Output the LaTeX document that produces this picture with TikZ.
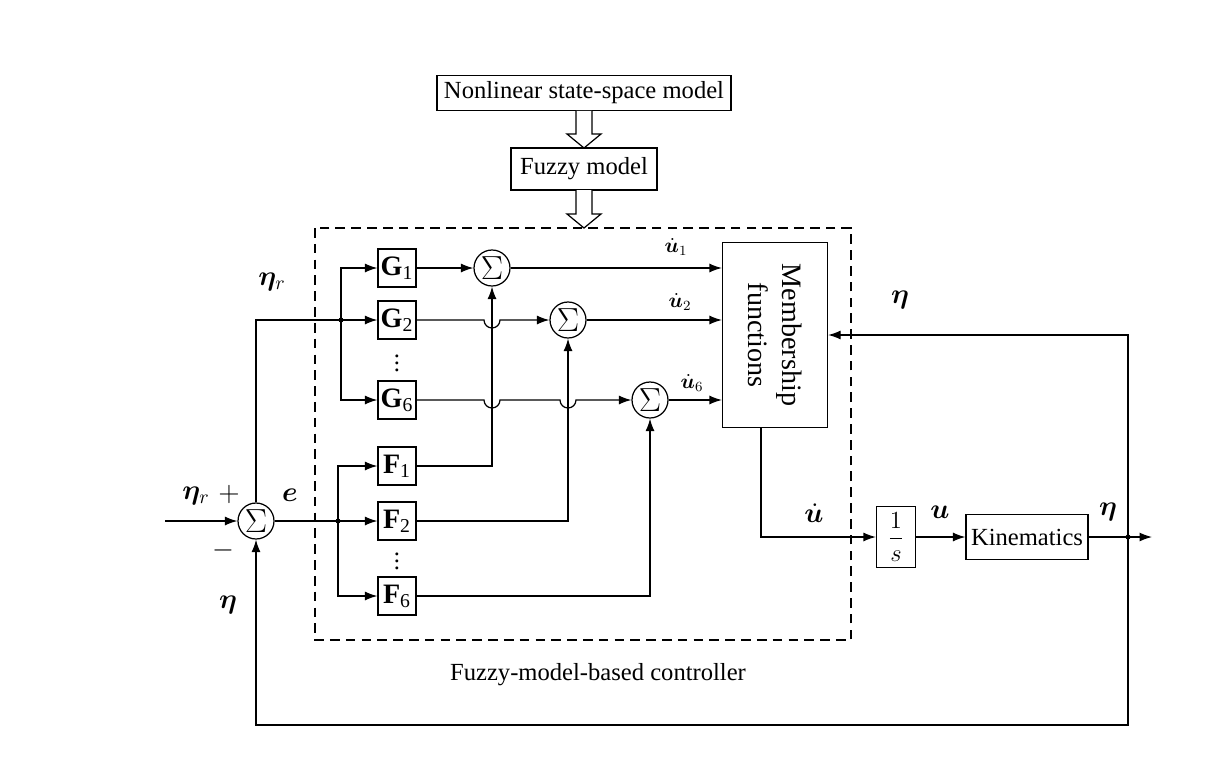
\RequirePackage{fix-cm}
\documentclass[tikz,border=0pt]{standalone}
\usepackage{fontspec}
\setmainfont{Liberation Serif}
\usepackage{bm}
\usetikzlibrary{arrows.meta,calc}

\tikzset{
  blk/.style={draw, inner sep=0pt, minimum width=0.76cm, minimum height=0.76cm},
  gain/.style={blk, font=\fontsize{16}{18}\selectfont},
  sumnode/.style={draw, circle, inner sep=0pt, minimum size=0.72cm, font=\fontsize{19}{21}\selectfont},
  sig/.style={-{Latex[length=2.5mm,width=1.8mm]}},
  sym/.style={font=\fontsize{16}{18}\selectfont},
  small/.style={font=\fontsize{12}{14}\selectfont},
}

\begin{document}
\begin{tikzpicture}[x=0.02cm,y=-0.02cm,line width=0.7pt,font=\fontsize{14}{17}\selectfont]
    \useasboundingbox (0,0) rectangle (1222,760);

    % model boxes on top
    \node[blk, minimum width=5.88cm, minimum height=0.7cm] (nl) at (584,93) {Nonlinear state-space model};
    \node[blk, minimum width=2.92cm, minimum height=0.84cm] (fm) at (584,169) {Fuzzy model};
    \foreach \t/\b in {111/148,190/228}
        \draw[fill=white] (576,\t) -- (576,\b-14) -- (567,\b-14) -- (584,\b) -- (601,\b-14) -- (592,\b-14) -- (592,\t);

    % controller frame
    \draw[dash pattern=on 5.5pt off 3.5pt] (315,228) rectangle (851,640);
    \node (cap) at (598,675) {Fuzzy-model-based controller};

    % error summer
    \node[sumnode] (s0) at (256,521) {$\Sigma$};
    \coordinate (in) at (165,521);
    \draw[sig] (in) -- (s0);
    \node[sym] at (196,496) {$\bm{\eta}_r$};
    \node[sym] at (229,494) {$+$};
    \node[sym] at (223,550) {$-$};
    \node[sym] at (228,605) {$\bm{\eta}$};

    % G gains
    \coordinate (gb) at (341,320);
    \node[gain] (g1) at (397,268) {\textbf{G}\textsubscript{1}};
    \node[gain] (g2) at (397,320) {\textbf{G}\textsubscript{2}};
    \node[gain] (g6) at (397,400) {\textbf{G}\textsubscript{6}};
    \node at (397,358) {$\vdots$};
    \draw (s0) |- (gb);
    \draw[sig] (gb) |- (g1);
    \draw[sig] (gb) -- (g2);
    \draw[sig] (gb) |- (g6);
    \fill (gb) circle (2.5);
    \node[sym] at (272,282) {$\bm{\eta}_r$};

    % F gains
    \coordinate (fb) at (338,521);
    \node[gain] (f1) at (397,466) {\textbf{F}\textsubscript{1}};
    \node[gain] (f2) at (397,521) {\textbf{F}\textsubscript{2}};
    \node[gain] (f6) at (397,596) {\textbf{F}\textsubscript{6}};
    \node at (397,556) {$\vdots$};
    \draw (s0) -- (fb);
    \draw[sig] (fb) |- (f1);
    \draw[sig] (fb) -- (f2);
    \draw[sig] (fb) |- (f6);
    \fill (fb) circle (2.5);
    \node[sym] at (290,495) {$\bm{e}$};

    % local summers
    \node[sumnode] (s1) at (492,268) {$\Sigma$};
    \node[sumnode] (s2) at (568,320) {$\Sigma$};
    \node[sumnode] (s3) at (650,400) {$\Sigma$};
    \draw[sig] (g1) -- (s1);
    \draw[sig] (g2) -- (484,320) arc[start angle=180,end angle=0,radius=8] -- (s2);
    \draw[sig] (g6) -- (484,400) arc[start angle=180,end angle=0,radius=8]
        -- (560,400) arc[start angle=180,end angle=0,radius=8] -- (s3);
    \draw[sig] (f1) -| (s1);
    \draw[sig] (f2) -| (s2);
    \draw[sig] (f6) -| (s3);

    % membership functions
    \node[blk, rotate=-90, align=center, minimum width=3.7cm, minimum height=2.1cm,
        font=\fontsize{16}{19}\selectfont] (mf) at (775,335) {Membership\\functions};
    \draw[sig] (s1) -- (s1 -| mf.south);
    \draw[sig] (s2) -- (s2 -| mf.south);
    \draw[sig] (s3) -- (s3 -| mf.south);
    \node[small] at (676,247) {$\dot{\bm{u}}_1$};
    \node[small] at (680,302) {$\dot{\bm{u}}_2$};
    \node[small] at (692,383) {$\dot{\bm{u}}_6$};

    % integrator and plant
    \node[blk, minimum width=0.78cm, minimum height=1.22cm] (int) at (896,537) {$\displaystyle\frac{1}{s}$};
    \node[blk, minimum width=2.44cm, minimum height=0.9cm] (kin) at (1027,537) {Kinematics};
    \draw[sig] ($(mf.east)+(-14,0)$) |- (int);
    \draw[sig] (int) -- (kin);
    \node[sym] at (814,513) {$\dot{\bm{u}}$};
    \node[sym] at (940,512) {$\bm{u}$};

    % output and feedback
    \coordinate (ob) at (1128,537);
    \coordinate (out) at (1152,537);
    \coordinate (fbk) at (256,725);
    \draw[sig] (kin) -- (out);
    \fill (ob) circle (2.5);
    \draw[sig] (ob) |- (mf.north);
    \draw[sig] (ob) |- (fbk) -- (s0);
    \node[sym] at (1108,512) {$\bm{\eta}$};
    \node[sym] at (900,300) {$\bm{\eta}$};
\end{tikzpicture}
\end{document}
